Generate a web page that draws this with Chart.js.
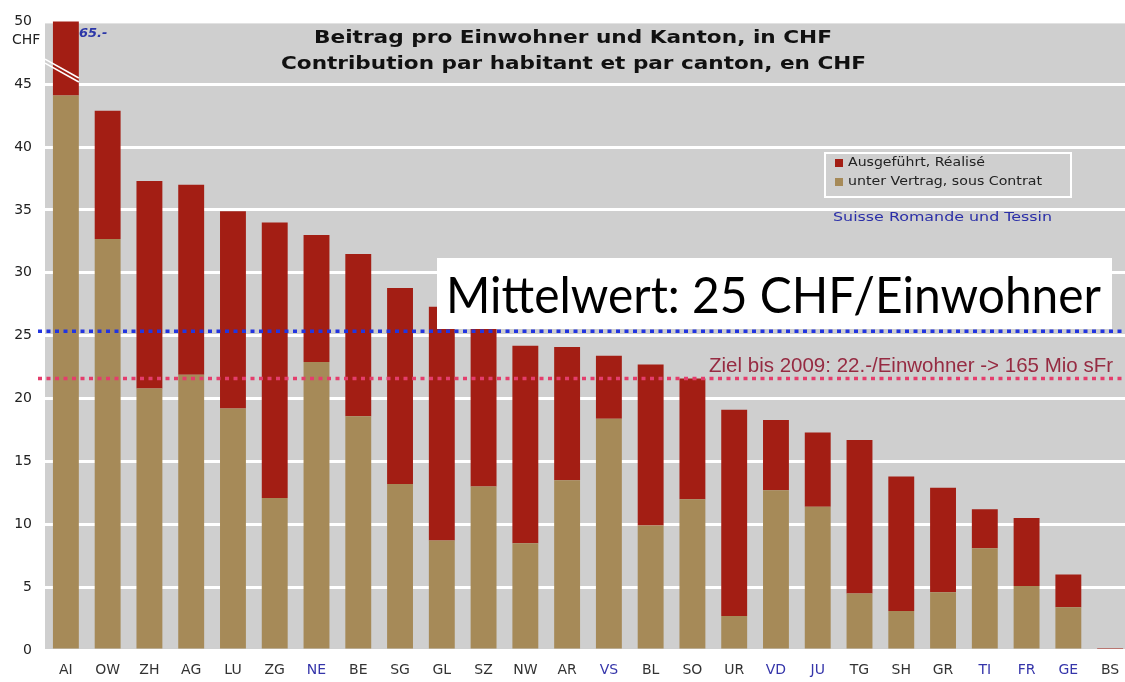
<!DOCTYPE html>
<html>
<head>
<meta charset="utf-8">
<script src="https://cdn.jsdelivr.net/npm/chart.js@4"></script>
<style>
  html, body { margin: 0; padding: 0; background: #fff; overflow: hidden; }
  #wrap { width: 1135px; height: 682px; }
</style>
</head>
<body>
<div id="wrap"><canvas id="chart" width="1135" height="682"></canvas></div>
<script>
// Kantone, sortiert nach Beitrag pro Einwohner
const kantone = ["AI","OW","ZH","AG","LU","ZG","NE","BE","SG","GL","SZ","NW","AR",
                 "VS","BL","SO","UR","VD","JU","TG","SH","GR","TI","FR","GE","BS"];
// unter Vertrag (beige, unten)
const vertrag = [44.1, 32.7, 20.8, 21.9, 19.2, 12.1, 22.9, 18.6, 13.2, 8.7, 13.0, 8.5, 13.5,
                 18.4, 9.9, 12.0, 2.7, 12.7, 11.4, 4.5, 3.1, 4.6, 8.1, 5.1, 3.4, 0];
// Ausgeführt (rot, oben) – Anteil über dem beigen Teil
const ausgefuehrt = [120.9, 10.2, 16.5, 15.1, 15.7, 21.9, 10.1, 12.9, 15.6, 18.6, 13.0, 15.7, 10.6,
                     5.0, 12.8, 9.6, 16.4, 5.6, 5.9, 12.2, 10.7, 8.3, 3.1, 5.4, 2.6, 0.15];
const romandie = ["NE","VS","VD","JU","TI","FR","GE"];
const yTicks = [0, 5, 10, 15, 20, 25, 30, 35, 40, 45, 50];
const mittelwert = 25.35;
const ziel = 21.6;
const aiTotal = "165.-";

const ROT = "#a31e14";
const BEIGE = "#a68a58";
const GRAU = "#cfcfcf";

function fitText(ctx, text, x, y, width, font, color) {
  ctx.save();
  ctx.font = font;
  const w = ctx.measureText(text).width;
  ctx.translate(x, y);
  ctx.scale(width / w, 1);
  ctx.fillStyle = color;
  ctx.textAlign = "left";
  ctx.fillText(text, 0, 0);
  ctx.restore();
}

const deko = {
  id: "deko",
  beforeDraw(chart) {
    const { ctx, chartArea } = chart;
    ctx.save();
    ctx.fillStyle = GRAU;
    ctx.fillRect(chartArea.left, chartArea.top + 2, chartArea.right - chartArea.left, chartArea.bottom - chartArea.top - 2);
    ctx.restore();
  },
  beforeDatasetsDraw(chart) {
    const { ctx } = chart;
    const bar = chart.getDatasetMeta(1).data[0];
    ctx.save();
    ctx.font = "italic bold 13px 'DejaVu Sans'";
    ctx.fillStyle = "#2b36a8";
    ctx.textBaseline = "middle";
    ctx.fillText(aiTotal, bar.x + bar.width / 2 - 9, 34);
    ctx.restore();
  },
  afterDatasetsDraw(chart) {
    const { ctx, chartArea, scales } = chart;
    const y = scales.y;
    // Bruchzeichen auf AI-Balken
    const bar = chart.getDatasetMeta(1).data[0];
    ctx.save();
    ctx.strokeStyle = "#ffffff";
    ctx.lineWidth = 1.6;
    [0, 4].forEach(d => {
      ctx.beginPath();
      ctx.moveTo(chartArea.left, y.getPixelForValue(47.0) + d);
      ctx.lineTo(bar.x + bar.width / 2, y.getPixelForValue(45.5) + d);
      ctx.stroke();
    });
    ctx.restore();

    // Mittelwert- und Ziel-Linien
    ctx.save();
    ctx.lineWidth = 3.5;
    ctx.setLineDash([4, 4.5]);
    ctx.strokeStyle = "#2235e0";
    ctx.beginPath();
    ctx.moveTo(38, y.getPixelForValue(mittelwert));
    ctx.lineTo(chart.width, y.getPixelForValue(mittelwert));
    ctx.stroke();
    ctx.strokeStyle = "#e43d6c";
    ctx.beginPath();
    ctx.moveTo(38, y.getPixelForValue(ziel));
    ctx.lineTo(chart.width, y.getPixelForValue(ziel));
    ctx.stroke();
    ctx.restore();

    // Mittelwert-Kasten
    ctx.save();
    ctx.fillStyle = "#ffffff";
    ctx.fillRect(437, 258, 675, 71);
    ctx.restore();
    fitText(ctx, "Mittelwert: 25 CHF/Einwohner", 446, 313, 655, "50px Lato", "#000");

    fitText(ctx, "Ziel bis 2009: 22.-/Einwohner -> 165 Mio sFr", 709, 372, 404,
            "21px 'Liberation Sans Narrow', 'Liberation Sans'", "#962b42");
  },
  afterDraw(chart) {
    const { ctx } = chart;
    // Titel
    const t1 = "Beitrag pro Einwohner und Kanton, in CHF";
    const t2 = "Contribution par habitant et par canton, en CHF";
    fitText(ctx, t1, 314, 43, 518, "bold 18px 'DejaVu Sans'", "#111");
    fitText(ctx, t2, 281, 69, 585, "bold 18px 'DejaVu Sans'", "#111");

    // CHF unter 50
    ctx.save();
    ctx.font = "14px 'DejaVu Sans'";
    ctx.fillStyle = "#222";
    ctx.textBaseline = "middle";
    ctx.fillText("CHF", 12, 40);
    ctx.restore();

    // Legende
    ctx.save();
    ctx.strokeStyle = "#ffffff";
    ctx.lineWidth = 2;
    ctx.strokeRect(825, 153, 246, 44);
    ctx.fillStyle = ROT;
    ctx.fillRect(835, 159, 8, 8);
    ctx.fillStyle = BEIGE;
    ctx.fillRect(835, 178, 8, 8);
    ctx.textBaseline = "middle";
    fitText(ctx, "Ausgeführt, Réalisé", 848, 163, 137, "12.5px 'DejaVu Sans'", "#222");
    fitText(ctx, "unter Vertrag, sous Contrat", 848, 182, 194, "12.5px 'DejaVu Sans'", "#222");
    fitText(ctx, "Suisse Romande und Tessin", 833, 218, 219, "13px 'DejaVu Sans'", "#2b2fa8");
    ctx.restore();
  }
};

new Chart(document.getElementById("chart"), {
  type: "bar",
  data: {
    labels: kantone,
    datasets: [
      { label: "unter Vertrag, sous Contrat", data: vertrag, backgroundColor: BEIGE, clip: 0 },
      { label: "Ausgeführt, Réalisé", data: ausgefuehrt, backgroundColor: ROT, clip: 0 }
    ]
  },
  options: {
    responsive: false,
    animation: false,
    devicePixelRatio: 1,
    layout: { padding: { top: 18, right: 4, left: 0, bottom: 0 } },
    datasets: { bar: { categoryPercentage: 1, barPercentage: 0.62 } },
    plugins: { legend: { display: false }, tooltip: { enabled: false } },
    scales: {
      x: {
        stacked: true,
        grid: { display: false, drawTicks: false },
        border: { display: false },
        ticks: {
          padding: 12,
          font: { family: "DejaVu Sans", size: 14 },
          color: c => romandie.includes(kantone[c.index]) ? "#3535aa" : "#333"
        },
        afterFit: s => { s.height = 32; }
      },
      y: {
        stacked: true,
        min: 0,
        max: 50,
        afterBuildTicks: s => { s.ticks = yTicks.map(v => ({ value: v })); },
        grid: { color: "#ffffff", lineWidth: 3, drawTicks: false },
        border: { display: false },
        ticks: {
          padding: 13,
          font: { family: "DejaVu Sans", size: 14 },
          color: "#222"
        },
        afterFit: s => { s.width = 45; }
      }
    }
  },
  plugins: [deko]
});
</script>
</body>
</html>
